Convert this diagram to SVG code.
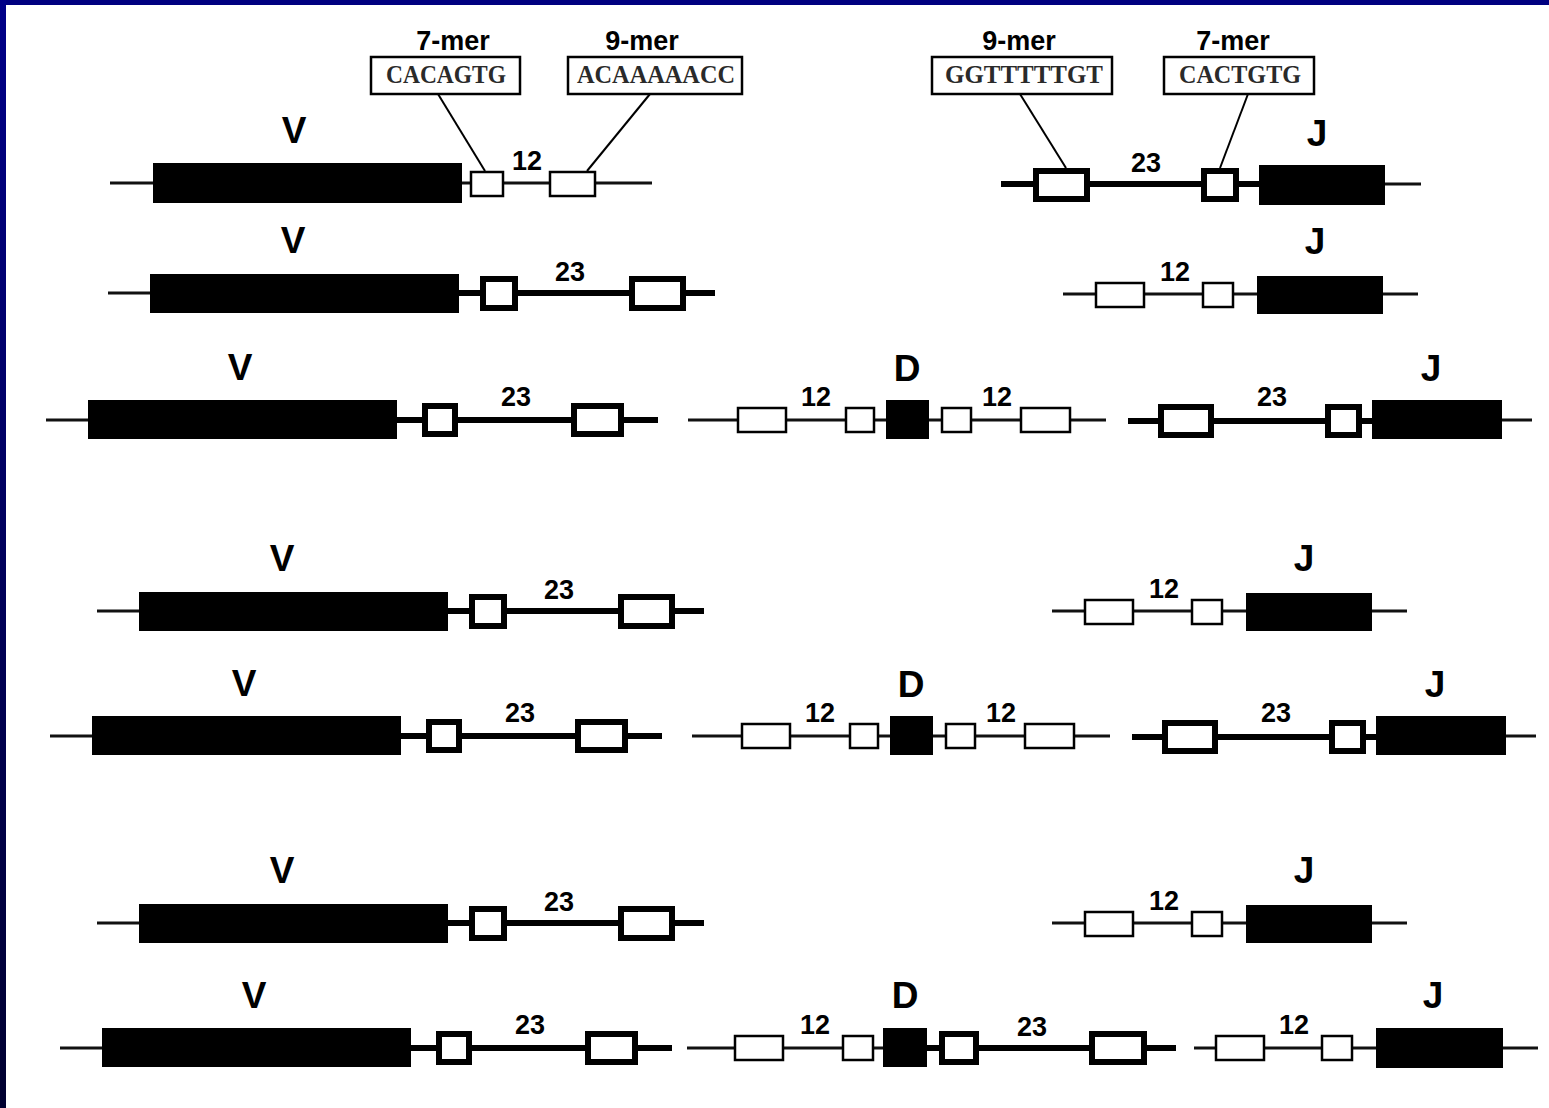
<svg xmlns="http://www.w3.org/2000/svg" width="1549" height="1108" viewBox="0 0 1549 1108">
<defs>
<linearGradient id="edge" x1="0" y1="0" x2="0" y2="1">
<stop offset="0" stop-color="#000088"/>
<stop offset="1" stop-color="#000030"/>
</linearGradient>
</defs>
<style>
.thin{stroke:#111;stroke-width:3;fill:none}
.thick{stroke:#000;stroke-width:6;fill:none}
.seg{fill:#000}
.ob{fill:#fff;stroke:#000;stroke-width:2.5}
.tb{fill:#fff;stroke:#000;stroke-width:6}
.sq{fill:#fff;stroke:#000;stroke-width:2.5}
.ptr{stroke:#000;stroke-width:2;fill:none}
.lbl{font-family:"Liberation Sans",Arial,sans-serif;font-weight:bold;fill:#000;text-anchor:middle}
.big{font-size:37px}
.num{font-size:27px}
.mer{font-size:27px}
.seq{font-family:"Liberation Serif","Times New Roman",serif;font-weight:bold;font-size:25px;fill:#2a2a2a;text-anchor:middle}
</style>
<rect x="0" y="0" width="1549" height="1108" fill="#fff"/>
<rect x="0" y="0" width="1549" height="5" fill="#000080"/>
<rect x="0" y="0" width="6" height="1108" fill="url(#edge)"/>

<!-- Row 1 -->
<g id="r1-V">
<line class="thin" x1="110" y1="183" x2="652" y2="183"/>
<rect class="seg" x="153" y="163" width="309" height="40"/>
<rect class="ob" x="471" y="172" width="32" height="24"/>
<rect class="ob" x="550" y="172" width="45" height="24"/>
<text class="lbl num" x="527" y="170">12</text>
<text class="lbl big" x="294" y="143">V</text>
</g>
<g id="r1-seq7">
<rect class="sq" x="371" y="57" width="149" height="37"/>
<text class="seq" x="446" y="83" textLength="120" lengthAdjust="spacingAndGlyphs">CACAGTG</text>
<text class="lbl mer" x="453" y="50">7-mer</text>
</g>
<g id="r1-seq9">
<rect class="sq" x="568" y="57" width="174" height="37"/>
<text class="seq" x="656" y="83" textLength="158" lengthAdjust="spacingAndGlyphs">ACAAAAACC</text>
<text class="lbl mer" x="642" y="50">9-mer</text>
</g>
<g id="r1-J">
<line class="thick" x1="1001" y1="184" x2="1262" y2="184"/>
<line class="thin" x1="1383" y1="184" x2="1421" y2="184"/>
<rect class="tb" x="1036" y="171" width="51" height="28"/>
<rect class="tb" x="1204" y="171" width="32" height="28"/>
<rect class="seg" x="1259" y="165" width="126" height="40"/>
<text class="lbl num" x="1146" y="172">23</text>
<text class="lbl big" x="1317" y="146">J</text>
</g>
<g id="r1-seq9b">
<rect class="sq" x="932" y="57" width="180" height="37"/>
<text class="seq" x="1024" y="83" textLength="158" lengthAdjust="spacingAndGlyphs">GGTTTTTGT</text>
<text class="lbl mer" x="1019" y="50">9-mer</text>
</g>
<g id="r1-seq7b">
<rect class="sq" x="1164" y="57" width="150" height="37"/>
<text class="seq" x="1240" y="83" textLength="122" lengthAdjust="spacingAndGlyphs">CACTGTG</text>
<text class="lbl mer" x="1233" y="50">7-mer</text>
</g>

<!-- Row 2 -->
<g id="r2-V">
<line class="thin" x1="108" y1="293" x2="152" y2="293"/>
<line class="thick" x1="455" y1="293" x2="715" y2="293"/>
<rect class="seg" x="150" y="274" width="309" height="39"/>
<rect class="tb" x="483" y="279" width="32" height="29"/>
<rect class="tb" x="632" y="279" width="51" height="29"/>
<text class="lbl num" x="570" y="281">23</text>
<text class="lbl big" x="293" y="253">V</text>
</g>
<g id="r2-J">
<line class="thin" x1="1063" y1="294" x2="1418" y2="294"/>
<rect class="ob" x="1096" y="283" width="48" height="24"/>
<rect class="ob" x="1203" y="283" width="30" height="24"/>
<rect class="seg" x="1257" y="276" width="126" height="38"/>
<text class="lbl num" x="1175" y="281">12</text>
<text class="lbl big" x="1315" y="254">J</text>
</g>

<!-- Row 3 -->
<g id="r3-V">
<line class="thin" x1="46" y1="420" x2="90" y2="420"/>
<line class="thick" x1="394" y1="420" x2="658" y2="420"/>
<rect class="seg" x="88" y="400" width="309" height="39"/>
<rect class="tb" x="425" y="406" width="30" height="28"/>
<rect class="tb" x="574" y="406" width="47" height="28"/>
<text class="lbl num" x="516" y="406">23</text>
<text class="lbl big" x="240" y="380">V</text>
</g>
<g id="r3-D">
<line class="thin" x1="688" y1="420" x2="1106" y2="420"/>
<rect class="ob" x="738" y="408" width="48" height="24"/>
<rect class="ob" x="846" y="408" width="28" height="24"/>
<rect class="seg" x="886" y="400" width="43" height="39"/>
<rect class="ob" x="942" y="408" width="29" height="24"/>
<rect class="ob" x="1021" y="408" width="49" height="24"/>
<text class="lbl num" x="816" y="406">12</text>
<text class="lbl num" x="997" y="406">12</text>
<text class="lbl big" x="907" y="381">D</text>
</g>
<g id="r3-J">
<line class="thick" x1="1128" y1="421" x2="1375" y2="421"/>
<line class="thin" x1="1500" y1="420" x2="1532" y2="420"/>
<rect class="tb" x="1161" y="407" width="50" height="28"/>
<rect class="tb" x="1328" y="407" width="31" height="28"/>
<rect class="seg" x="1372" y="400" width="130" height="39"/>
<text class="lbl num" x="1272" y="406">23</text>
<text class="lbl big" x="1431" y="381">J</text>
</g>

<!-- Row 4 -->
<g id="r4-V" transform="translate(-11,318)">
<line class="thin" x1="108" y1="293" x2="152" y2="293"/>
<line class="thick" x1="455" y1="293" x2="715" y2="293"/>
<rect class="seg" x="150" y="274" width="309" height="39"/>
<rect class="tb" x="483" y="279" width="32" height="29"/>
<rect class="tb" x="632" y="279" width="51" height="29"/>
<text class="lbl num" x="570" y="281">23</text>
<text class="lbl big" x="293" y="253">V</text>
</g>
<g id="r4-J" transform="translate(-11,317)">
<line class="thin" x1="1063" y1="294" x2="1418" y2="294"/>
<rect class="ob" x="1096" y="283" width="48" height="24"/>
<rect class="ob" x="1203" y="283" width="30" height="24"/>
<rect class="seg" x="1257" y="276" width="126" height="38"/>
<text class="lbl num" x="1175" y="281">12</text>
<text class="lbl big" x="1315" y="254">J</text>
</g>

<!-- Row 5 -->
<g id="r5-V" transform="translate(4,316)">
<line class="thin" x1="46" y1="420" x2="90" y2="420"/>
<line class="thick" x1="394" y1="420" x2="658" y2="420"/>
<rect class="seg" x="88" y="400" width="309" height="39"/>
<rect class="tb" x="425" y="406" width="30" height="28"/>
<rect class="tb" x="574" y="406" width="47" height="28"/>
<text class="lbl num" x="516" y="406">23</text>
<text class="lbl big" x="240" y="380">V</text>
</g>
<g id="r5-D" transform="translate(4,316)">
<line class="thin" x1="688" y1="420" x2="1106" y2="420"/>
<rect class="ob" x="738" y="408" width="48" height="24"/>
<rect class="ob" x="846" y="408" width="28" height="24"/>
<rect class="seg" x="886" y="400" width="43" height="39"/>
<rect class="ob" x="942" y="408" width="29" height="24"/>
<rect class="ob" x="1021" y="408" width="49" height="24"/>
<text class="lbl num" x="816" y="406">12</text>
<text class="lbl num" x="997" y="406">12</text>
<text class="lbl big" x="907" y="381">D</text>
</g>
<g id="r5-J" transform="translate(4,316)">
<line class="thick" x1="1128" y1="421" x2="1375" y2="421"/>
<line class="thin" x1="1500" y1="420" x2="1532" y2="420"/>
<rect class="tb" x="1161" y="407" width="50" height="28"/>
<rect class="tb" x="1328" y="407" width="31" height="28"/>
<rect class="seg" x="1372" y="400" width="130" height="39"/>
<text class="lbl num" x="1272" y="406">23</text>
<text class="lbl big" x="1431" y="381">J</text>
</g>

<!-- Row 6 -->
<g id="r6-V" transform="translate(-11,630)">
<line class="thin" x1="108" y1="293" x2="152" y2="293"/>
<line class="thick" x1="455" y1="293" x2="715" y2="293"/>
<rect class="seg" x="150" y="274" width="309" height="39"/>
<rect class="tb" x="483" y="279" width="32" height="29"/>
<rect class="tb" x="632" y="279" width="51" height="29"/>
<text class="lbl num" x="570" y="281">23</text>
<text class="lbl big" x="293" y="253">V</text>
</g>
<g id="r6-J" transform="translate(-11,629)">
<line class="thin" x1="1063" y1="294" x2="1418" y2="294"/>
<rect class="ob" x="1096" y="283" width="48" height="24"/>
<rect class="ob" x="1203" y="283" width="30" height="24"/>
<rect class="seg" x="1257" y="276" width="126" height="38"/>
<text class="lbl num" x="1175" y="281">12</text>
<text class="lbl big" x="1315" y="254">J</text>
</g>

<!-- Row 7 -->
<g id="r7-V" transform="translate(14,628)">
<line class="thin" x1="46" y1="420" x2="90" y2="420"/>
<line class="thick" x1="394" y1="420" x2="658" y2="420"/>
<rect class="seg" x="88" y="400" width="309" height="39"/>
<rect class="tb" x="425" y="406" width="30" height="28"/>
<rect class="tb" x="574" y="406" width="47" height="28"/>
<text class="lbl num" x="516" y="406">23</text>
<text class="lbl big" x="240" y="380">V</text>
</g>
<g id="r7-D">
<line class="thin" x1="687" y1="1048" x2="885" y2="1048"/>
<line class="thick" x1="925" y1="1048" x2="1176" y2="1048"/>
<rect class="ob" x="735" y="1036" width="48" height="24"/>
<rect class="ob" x="843" y="1036" width="30" height="24"/>
<rect class="seg" x="883" y="1028" width="44" height="39"/>
<rect class="tb" x="942" y="1034" width="34" height="28"/>
<rect class="tb" x="1092" y="1034" width="52" height="28"/>
<text class="lbl num" x="815" y="1034">12</text>
<text class="lbl num" x="1032" y="1036">23</text>
<text class="lbl big" x="905" y="1008">D</text>
</g>
<g id="r7-J">
<line class="thin" x1="1194" y1="1048" x2="1538" y2="1048"/>
<rect class="ob" x="1216" y="1036" width="48" height="24"/>
<rect class="ob" x="1322" y="1036" width="30" height="24"/>
<rect class="seg" x="1376" y="1028" width="127" height="40"/>
<text class="lbl num" x="1294" y="1034">12</text>
<text class="lbl big" x="1433" y="1008">J</text>
</g>

<g id="connectors">
<line class="ptr" x1="438" y1="94" x2="485" y2="171"/>
<line class="ptr" x1="650" y1="94" x2="587" y2="171"/>
<line class="ptr" x1="1020" y1="94" x2="1066" y2="168"/>
<line class="ptr" x1="1248" y1="94" x2="1220" y2="168"/>
</g>
</svg>
